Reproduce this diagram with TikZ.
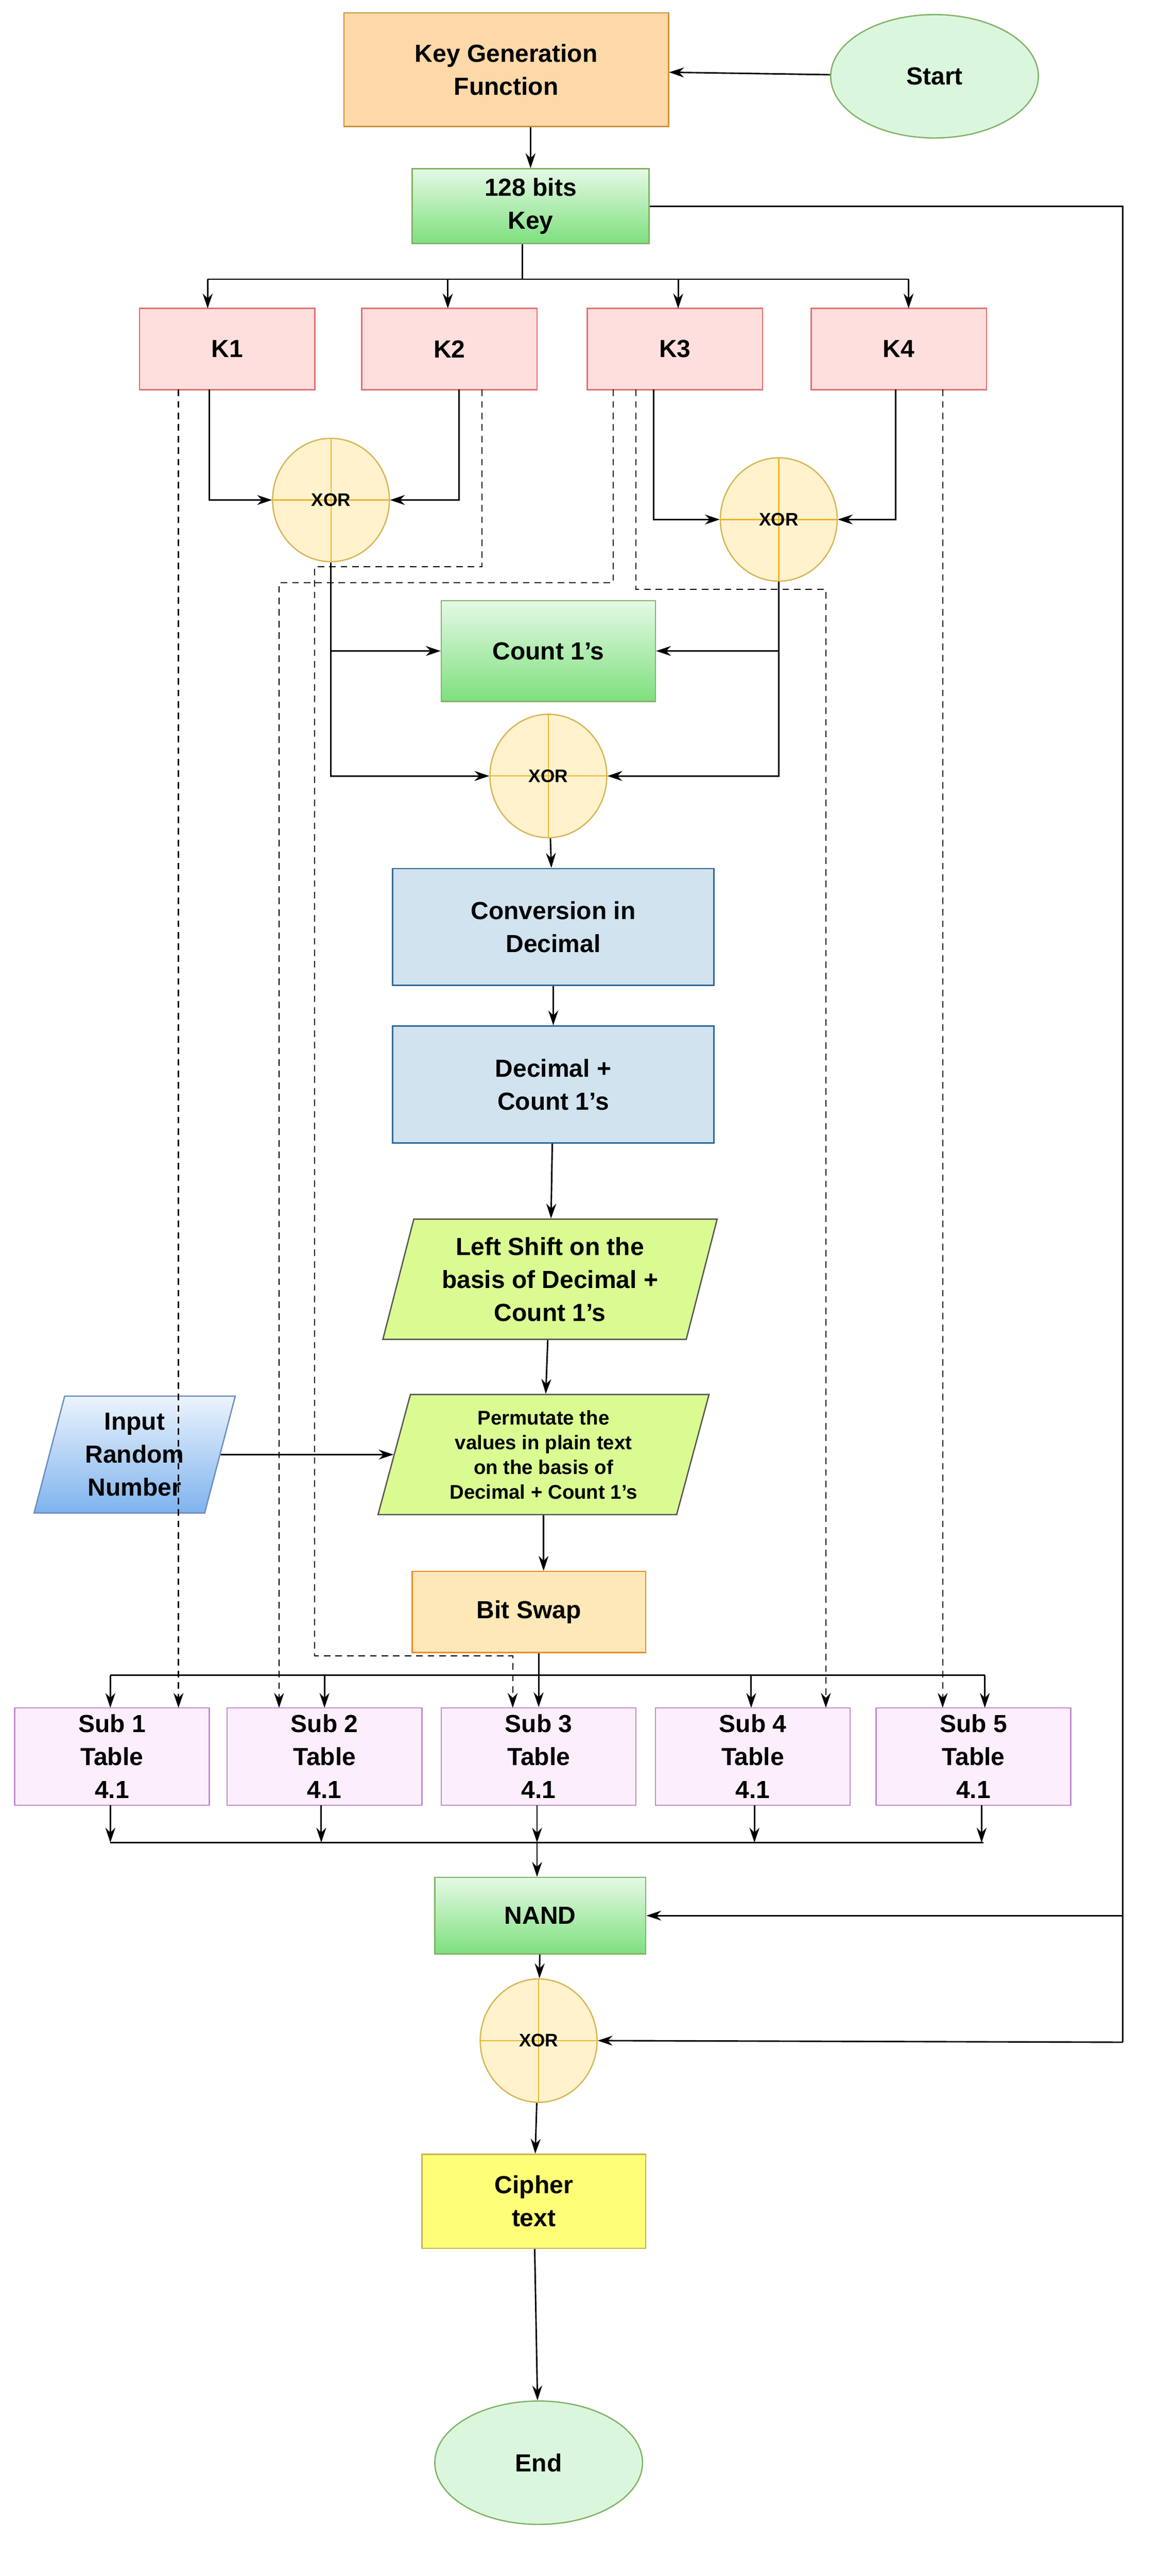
\documentclass[tikz,border=0pt]{standalone}
\usepackage{fontspec}
\setmainfont{Liberation Sans}
\usepackage{tikz}
\usetikzlibrary{arrows.meta,shapes.geometric,positioning}

\newcommand{\px}{0.03461cm}

\definecolor{orgfill}{HTML}{FDD8A8}
\definecolor{orgline}{HTML}{C8943A}
\definecolor{grnline}{HTML}{82B366}
\definecolor{grnfill}{HTML}{7EE07E}
\definecolor{kfill}{HTML}{FFDEDE}
\definecolor{kline}{HTML}{E07070}
\definecolor{xfill}{HTML}{FFF2CC}
\definecolor{xline}{HTML}{D6B656}
\definecolor{xcross}{HTML}{F0B429}
\definecolor{bfill}{HTML}{D0E3EF}
\definecolor{bline}{HTML}{2E6A96}
\definecolor{pfill}{HTML}{DAFB91}
\definecolor{pline}{HTML}{555555}
\definecolor{ifill}{HTML}{7EB3EE}
\definecolor{iline}{HTML}{6C8EBF}
\definecolor{swfill}{HTML}{FFE8B8}
\definecolor{swline}{HTML}{F08A24}
\definecolor{sfill}{HTML}{FCEEFC}
\definecolor{sline}{HTML}{C08CCF}
\definecolor{cfill}{HTML}{FFFF77}
\definecolor{cline}{HTML}{C8B450}
\definecolor{efill}{HTML}{DAF7DE}

\begin{document}
\begin{tikzpicture}[
  x=\px, y=-\px,
  font=\bfseries\fontsize{15}{20}\selectfont,
  box/.style    = {rectangle, draw, align=center, line width=0.8pt},
  keygen/.style = {box, fill=orgfill, draw=orgline,
                   minimum width=200*\px, minimum height=70*\px},
  term/.style   = {ellipse, draw=grnline, fill=efill, line width=0.8pt,
                   minimum width=128*\px, minimum height=76*\px},
  green/.style  = {box, draw=grnline, top color=white!80!grnfill, bottom color=grnfill},
  kbox/.style   = {box, fill=kfill, draw=kline,
                   minimum width=108*\px, minimum height=50*\px},
  xor/.style    = {ellipse, draw=xline, fill=xfill, line width=0.8pt,
                   minimum width=72*\px, minimum height=76*\px,
                   font=\bfseries\fontsize{11}{13}\selectfont,
                   path picture={
                     \draw[xcross, line width=0.8pt]
                       (path picture bounding box.north) -- (path picture bounding box.south)
                       (path picture bounding box.west) -- (path picture bounding box.east);}},
  blue/.style   = {box, fill=bfill, draw=bline,
                   minimum width=198*\px, minimum height=72*\px},
  para/.style   = {trapezium, trapezium left angle=72, trapezium right angle=108,
                   trapezium stretches body, draw, align=center, line width=0.8pt,
                   minimum height=74*\px},
  sub/.style    = {box, fill=sfill, draw=sline,
                   minimum width=120*\px, minimum height=60*\px},
  arrow/.style  = {-{Stealth[length=9pt,width=6pt]}, line width=0.9pt},
  keyline/.style = {arrow, line width=0.7pt, dash pattern=on 4pt off 3pt}
]
\useasboundingbox (0,0) rectangle (724.1,1586.8);

% top part
\node[keygen] (kgf) at (312,43) {Key Generation\\Function};
\node[term] (start) at (576,47) {Start};
\node[green, minimum width=146*\px, minimum height=46*\px] (key) at (327,127) {128 bits\\Key};

\node[kbox] (k1) at (140,215) {K1};
\node[kbox] (k2) at (277,215) {K2};
\node[kbox] (k3) at (416,215) {K3};
\node[kbox] (k4) at (554,215) {K4};

\node[xor] (xor1) at (204,308) {XOR};
\node[xor] (xor2) at (480,320) {XOR};
\node[green, minimum width=132*\px, minimum height=62*\px] (count) at (338,401) {Count 1's};
\node[xor] (xor3) at (338,478) {XOR};

% middle part
\node[blue] (conv) at (341,571) {Conversion in\\Decimal};
\node[blue] (dec)  at (341,668) {Decimal +\\Count 1's};
\node[para, fill=pfill, draw=pline, minimum width=206*\px] (shift) at (339,788)
  {Left Shift on the\\basis of Decimal +\\Count 1's};
\node[para, fill=pfill, draw=pline, minimum width=204*\px,
      font=\bfseries\fontsize{12}{15}\selectfont] (perm) at (335,896)
  {Permutate the\\values in plain text\\on the basis of\\Decimal + Count 1's};
\node[para, draw=iline, top color=white!85!ifill, bottom color=ifill,
      minimum width=124*\px, minimum height=72*\px] (rand) at (83,896)
  {Input\\Random\\Number};
\node[box, fill=swfill, draw=swline, minimum width=144*\px, minimum height=50*\px]
  (swap) at (326,993) {Bit Swap};

% substitution tables
\foreach \i/\x in {1/69, 2/200, 3/332, 4/464, 5/600}
  \node[sub] (sub\i) at (\x,1082) {Sub \i\\Table\\4.1};

% bottom part
\node[green, minimum width=130*\px, minimum height=47*\px] (nand) at (333,1180) {NAND};
\node[xor] (xor4) at (332,1257) {XOR};
\node[box, fill=cfill, draw=cline, minimum width=138*\px, minimum height=58*\px]
  (cipher) at (329,1356) {Cipher\\text};
\node[term] (end) at (332,1517) {End};

\coordinate (kbus) at (322,172);
\coordinate (rtop) at (692,127);
\coordinate (rbot) at (692,1258);
\coordinate (sbus) at (332,1032);
\coordinate (obus) at (331,1135);

% arrows
\draw[arrow] (start) -- (kgf);
\draw[arrow] (kgf.south -| key.north) -- (key.north);
\draw[line width=0.9pt] (key.south -| kbus) -- (kbus) (128,172) -- (560,172);
\foreach \x in {128,276,418,560}
  \draw[arrow] (\x,172) -- (\x,190);

\draw[arrow] (129,240) |- (xor1.west);
\draw[arrow] (283,240) |- (xor1.east);
\draw[arrow] (403,240) |- (xor2.west);
\draw[arrow] (552,240) |- (xor2.east);

\draw[arrow] (xor1.south) |- (xor3.west);
\draw[arrow] (xor1.south |- count.west) -- (count.west);
\draw[arrow] (xor2.south) |- (xor3.east);
\draw[arrow] (xor2.south |- count.east) -- (count.east);

\draw[arrow] (xor3) -- (conv);
\draw[arrow] (conv) -- (dec);
\draw[arrow] (dec) -- (shift);
\draw[arrow] (shift) -- (perm);
\draw[arrow] (rand) -- (perm);
\draw[arrow] (perm) -- (swap.north -| perm.south);

\draw[line width=0.9pt] (68,1032) -- (607,1032);
\draw[arrow] (swap.south -| sub3.north) -- (sub3.north);
\foreach \x in {68,200,463,607}
  \draw[arrow] (\x,1032) -- (\x,1052);
\foreach \x in {68,198,331,465,605}
  \draw[arrow] (\x,1112) -- (\x,1135);
\draw[line width=0.9pt] (68,1135) -- (606,1135);
\draw[arrow] (obus) -- (nand.north -| obus);

\draw[arrow] (nand) -- (xor4);
\draw[arrow] (xor4) -- (cipher);
\draw[arrow] (cipher) -- (end);

\draw[line width=0.9pt] (key.east) -- (rtop) -- (rbot);
\draw[arrow] (rtop |- nand.east) -- (nand.east);
\draw[arrow] (rbot) -- (xor4.east);

% dashed key lines to the tables
\draw[keyline] (110,240) -- (110,1052);
\draw[keyline] (297,240) -- (297,349) -- (194,349) -- (194,1020) -- (316,1020) -- (316,1052);
\draw[keyline] (378,240) -- (378,359) -- (172,359) -- (172,1052);
\draw[keyline] (392,240) -- (392,363) -- (509,363) -- (509,1052);
\draw[keyline] (581,240) -- (581,1052);

\end{tikzpicture}
\end{document}
